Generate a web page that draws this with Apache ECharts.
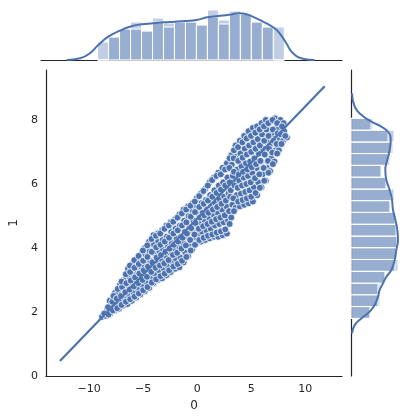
<!DOCTYPE html>
<html>
<head>
<meta charset="utf-8">
<script src="https://cdn.jsdelivr.net/npm/echarts@6/dist/echarts.min.js"></script>
<style>
  html, body { margin: 0; padding: 0; background: #fff; }
  #main { width: 410px; height: 420px; }
</style>
</head>
<body>
<div id="main"></div>
<script>
// tick labels
const xTicks = [-10, -5, 0, 5, 10];
const yTicks = [0, 2, 4, 6, 8];

// joint scatter (column "0" vs column "1")
const points = [
  [-8.8,1.85],
  [-8.45,1.88],[-8.35,2.05],
  [-8.05,1.95],[-7.95,2.2],[-8.1,2.35],
  [-7.65,2.05],[-7.55,2.3],[-7.6,2.6],
  [-7.25,2.1],[-7.1,2.35],[-7.3,2.6],[-7.15,2.85],
  [-6.85,2.2],[-6.75,2.45],[-6.9,2.75],[-6.7,3.0],
  [-6.45,2.25],[-6.35,2.55],[-6.5,2.85],[-6.3,3.1],[-6.4,3.35],
  [-6.05,2.35],[-5.9,2.6],[-6.1,2.9],[-5.95,3.2],[-6.0,3.5],
  [-5.65,2.45],[-5.55,2.75],[-5.7,3.0],[-5.5,3.3],[-5.6,3.65],
  [-5.25,2.55],[-5.1,2.85],[-5.3,3.1],[-5.15,3.4],[-5.2,3.8],
  [-4.85,2.65],[-4.75,2.95],[-4.9,3.25],[-4.7,3.55],[-4.8,3.8],[-4.85,4.0],
  [-4.45,2.75],[-4.3,3.05],[-4.5,3.35],[-4.35,3.6],[-4.4,3.9],[-4.45,4.2],
  [-4.05,2.9],[-3.95,3.2],[-4.1,3.5],[-3.9,3.8],[-4.0,4.1],[-4.05,4.4],
  [-3.65,3.0],[-3.55,3.3],[-3.7,3.6],[-3.5,3.9],[-3.6,4.2],[-3.65,4.45],
  [-3.25,3.05],[-3.1,3.35],[-3.3,3.65],[-3.15,3.95],[-3.2,4.25],[-3.25,4.55],
  [-2.85,3.15],[-2.75,3.45],[-2.9,3.75],[-2.7,4.05],[-2.8,4.35],[-2.85,4.7],
  [-2.45,3.25],[-2.3,3.55],[-2.5,3.85],[-2.35,4.15],[-2.4,4.5],[-2.45,4.8],
  [-2.05,3.35],[-1.95,3.65],[-2.1,3.95],[-1.9,4.3],[-2.0,4.6],[-2.05,4.9],
  [-1.65,3.4],[-1.55,3.7],[-1.7,4.05],[-1.5,4.35],[-1.6,4.7],[-1.65,5.05],
  [-1.25,3.55],[-1.1,3.85],[-1.3,4.15],[-1.15,4.5],[-1.2,4.85],[-1.25,5.2],
  [-0.85,3.75],[-0.75,4.05],[-0.9,4.35],[-0.7,4.65],[-0.8,5.0],[-0.85,5.3],
  [-0.45,3.95],[-0.3,4.25],[-0.5,4.55],[-0.35,4.85],[-0.4,5.15],[-0.45,5.4],
  [-0.05,4.15],[0.05,4.45],[-0.1,4.75],[0.1,5.05],[0.0,5.3],[-0.05,5.55],
  [0.35,4.2],[0.45,4.5],[0.3,4.8],[0.5,5.1],[0.4,5.4],[0.35,5.7],
  [0.75,4.25],[0.85,4.55],[0.7,4.85],[0.9,5.2],[0.8,5.5],[0.75,5.85],
  [1.15,4.3],[1.25,4.6],[1.1,4.95],[1.3,5.3],[1.2,5.65],[1.15,6.05],
  [1.55,4.35],[1.65,4.7],[1.5,5.05],[1.7,5.4],[1.6,5.8],[1.55,6.2],
  [1.95,4.35],[2.05,4.75],[1.9,5.1],[2.1,5.5],[2.0,5.95],[1.95,6.35],
  [2.35,4.4],[2.45,4.8],[2.3,5.2],[2.5,5.6],[2.4,6.05],[2.35,6.5],
  [2.75,4.45],[2.85,4.85],[2.7,5.3],[2.9,5.7],[2.8,6.2],[2.75,6.65],
  [3.15,4.95],[3.25,5.35],[3.1,5.8],[3.3,6.25],[3.2,6.6],[3.15,6.9],
  [3.55,5.25],[3.65,5.65],[3.5,6.05],[3.7,6.45],[3.6,6.85],[3.55,7.2],
  [3.95,5.3],[4.05,5.7],[3.9,6.1],[4.1,6.55],[4.0,6.95],[3.95,7.35],
  [4.35,5.35],[4.45,5.75],[4.3,6.2],[4.5,6.65],[4.4,7.1],[4.35,7.5],
  [4.75,5.4],[4.85,5.8],[4.7,6.25],[4.9,6.7],[4.8,7.2],[4.75,7.65],
  [5.15,5.45],[5.25,5.9],[5.1,6.35],[5.3,6.8],[5.2,7.3],[5.15,7.75],
  [5.55,5.65],[5.65,6.05],[5.5,6.5],[5.7,6.95],[5.6,7.4],[5.55,7.8],
  [5.95,5.9],[6.05,6.3],[5.9,6.7],[6.1,7.1],[6.0,7.55],[5.95,7.9],
  [6.35,6.1],[6.45,6.5],[6.3,6.9],[6.5,7.3],[6.4,7.7],[6.35,8.0],
  [6.75,6.4],[6.85,6.8],[6.7,7.2],[6.9,7.55],[6.8,7.95],
  [7.15,6.7],[7.25,7.05],[7.1,7.4],[7.3,7.75],[7.2,8.05],
  [7.55,7.05],[7.65,7.4],[7.5,7.7],[7.7,8.0],
  [7.95,7.35],[8.05,7.65],[8.0,7.9],
  [8.3,7.45]
];
const points2 = [
  [-8.6,1.95],
  [-8.2,1.92],[-8.25,2.15],
  [-7.8,2.05],[-7.85,2.32],[-7.75,2.5],
  [-7.4,2.12],[-7.45,2.42],[-7.35,2.72],
  [-7.0,2.22],[-7.05,2.5],[-6.95,2.78],[-7.0,2.95],
  [-6.6,2.32],[-6.65,2.62],[-6.55,2.9],[-6.6,3.18],
  [-6.2,2.4],[-6.25,2.7],[-6.15,2.98],[-6.2,3.25],[-6.22,3.45],
  [-5.8,2.48],[-5.85,2.8],[-5.75,3.08],[-5.8,3.38],[-5.82,3.62],
  [-5.4,2.58],[-5.45,2.9],[-5.35,3.2],[-5.4,3.5],[-5.42,3.75],
  [-5.0,2.68],[-5.05,3.0],[-4.95,3.3],[-5.0,3.6],[-5.02,3.92],
  [-4.6,2.78],[-4.65,3.1],[-4.55,3.42],[-4.6,3.72],[-4.62,4.08],
  [-4.2,2.92],[-4.25,3.25],[-4.15,3.55],[-4.2,3.88],[-4.22,4.28],
  [-3.8,3.02],[-3.85,3.38],[-3.75,3.7],[-3.8,4.02],[-3.82,4.38],
  [-3.4,3.12],[-3.45,3.45],[-3.35,3.78],[-3.4,4.1],[-3.42,4.45],
  [-3.0,3.2],[-3.05,3.52],[-2.95,3.88],[-3.0,4.2],[-3.02,4.6],
  [-2.6,3.3],[-2.65,3.62],[-2.55,3.98],[-2.6,4.32],[-2.62,4.7],
  [-2.2,3.42],[-2.25,3.78],[-2.15,4.1],[-2.2,4.45],[-2.22,4.82],
  [-1.8,3.5],[-1.85,3.85],[-1.75,4.2],[-1.8,4.55],[-1.82,4.95],
  [-1.4,3.6],[-1.45,3.98],[-1.35,4.32],[-1.4,4.7],[-1.42,5.08],
  [-1.0,3.72],[-1.05,4.08],[-0.95,4.45],[-1.0,4.8],[-1.02,5.2],
  [-0.6,3.92],[-0.65,4.25],[-0.55,4.62],[-0.6,4.98],[-0.62,5.32],
  [-0.2,4.1],[-0.25,4.42],[-0.15,4.78],[-0.2,5.12],[-0.22,5.45],
  [0.2,4.25],[0.15,4.6],[0.25,4.95],[0.2,5.28],[0.18,5.62],
  [0.6,4.32],[0.55,4.68],[0.65,5.02],[0.6,5.38],[0.58,5.78],
  [1.0,4.38],[0.95,4.75],[1.05,5.1],[1.0,5.48],[0.98,5.95],
  [1.4,4.42],[1.35,4.82],[1.45,5.2],[1.4,5.6],[1.38,6.12],
  [1.8,4.48],[1.75,4.9],[1.85,5.28],[1.8,5.72],[1.78,6.25],
  [2.2,4.52],[2.15,4.95],[2.25,5.38],[2.2,5.82],[2.18,6.3],
  [2.6,4.58],[2.55,5.02],[2.65,5.48],[2.6,5.95],[2.58,6.45],
  [3.0,4.75],[2.95,5.15],[3.05,5.6],[3.0,6.05],[2.98,6.5],[3.0,6.8],
  [3.4,5.15],[3.35,5.55],[3.45,5.95],[3.4,6.38],[3.38,6.8],[3.4,7.05],
  [3.8,5.45],[3.75,5.88],[3.85,6.3],[3.8,6.72],[3.78,7.15],
  [4.2,5.5],[4.15,5.95],[4.25,6.38],[4.2,6.82],[4.18,7.3],
  [4.6,5.55],[4.55,6.0],[4.65,6.45],[4.6,6.92],[4.58,7.42],
  [5.0,5.6],[4.95,6.05],[5.05,6.52],[5.0,7.0],[4.98,7.5],
  [5.4,5.72],[5.35,6.18],[5.45,6.62],[5.4,7.1],[5.38,7.6],
  [5.8,5.88],[5.75,6.3],[5.85,6.72],[5.8,7.2],[5.78,7.7],
  [6.2,6.1],[6.15,6.5],[6.25,6.92],[6.2,7.35],[6.18,7.8],
  [6.6,6.35],[6.55,6.72],[6.65,7.1],[6.6,7.5],[6.58,7.9],
  [7.0,6.62],[6.95,6.98],[7.05,7.35],[7.0,7.7],[6.98,8.0],
  [7.4,6.95],[7.35,7.25],[7.45,7.58],[7.4,7.9],
  [7.8,7.25],[7.75,7.55],[7.85,7.8],
  [8.15,7.5]
];

// fitted regression line ends
const regLine = [[-12.7, 0.47], [11.8, 9.05]];

// top marginal: histogram of "0" (two overlapping layers) + kde
const xBinEdges = [-8.85,-7.85,-6.85,-5.85,-4.85,-3.85,-2.85,-1.85,-0.85,0.15,1.15,2.15,3.15,4.15,5.15,6.15,7.15,8.15];
const xHistA = [18,23,31,38,29,42,37,38,38,35,50,40,49,46,38,33,33];
const xHistB = [0,23,31,31,29,38,33,38,38,35,43,36,46,46,38,33,0];
const xKde = [[-11.66,0],[-10.45,1.7],[-9.55,6.7],[-8.79,15],[-7.88,23.3],[-6.82,29.3],[-5.91,33.3],
  [-4.85,35.7],[-3.79,36.7],[-2.88,37.7],[-1.82,38.3],[-0.85,39],[0.15,40],[1.15,42.7],[2.12,44],
  [3.12,45.3],[4.03,46.7],[4.7,45.7],[5.6,41.7],[6.52,36.7],[7.27,31.7],[7.73,26.7],[8.33,16.7],
  [8.94,6.7],[9.85,1.3],[10.9,0]];

// right marginal: histogram of "1" + kde
const yBinEdges = [1.8,2.17,2.54,2.9,3.27,3.64,4.01,4.37,4.74,5.11,5.48,5.84,6.21,6.58,6.95,7.31,7.68,8.05];
const yHistA = [19,29,29,34,47,46,47,47,45,39,43,36,31,39,42,43,22];
const yHistB = [19,27,27,34,44,45,46,45,44,39,40,35,30,37,40,37,20];
const yKde = [[1,1.33],[3.7,1.59],[10.3,1.8],[18.7,2.01],[23.7,2.22],[27,2.48],[28.7,2.69],[32,2.9],
  [35.3,3.1],[40.3,3.31],[43.7,3.63],[45.3,3.94],[47,4.25],[46.3,4.56],[44.3,4.88],[42,5.19],[41,5.5],
  [38.7,5.81],[35.3,6.13],[34.3,6.44],[36.3,6.75],[38.7,7.06],[39.7,7.38],[37,7.63],[30.3,7.79],
  [20.3,7.95],[10.3,8.16],[3.7,8.42],[1,8.83]];

const blue = '#4c72b0';
const barFill = 'rgba(76,114,176,0.35)';
const ink = '#262626';

function toBins(edges, heights) {
  return heights.map((h, i) => [edges[i], edges[i + 1], h]);
}

function vBar(params, api) {
  const p0 = api.coord([api.value(0), 0]);
  const p1 = api.coord([api.value(1), api.value(2)]);
  return {
    type: 'rect',
    shape: { x: p0[0], y: p1[1], width: p1[0] - p0[0], height: p0[1] - p1[1] },
    style: { fill: barFill, stroke: '#fff', lineWidth: 1 }
  };
}

function hBar(params, api) {
  const p0 = api.coord([0, api.value(0)]);
  const p1 = api.coord([api.value(2), api.value(1)]);
  return {
    type: 'rect',
    shape: { x: p0[0], y: p1[1], width: p1[0] - p0[0], height: p0[1] - p1[1] },
    style: { fill: barFill, stroke: '#fff', lineWidth: 1 }
  };
}

const minus = v => String(v).replace('-', '\u2212');
const font = 'DejaVu Sans';

const chart = echarts.init(document.getElementById('main'));
const option = {
  animation: false,
  grid: [
    { left: 41, top: 70, width: 301, height: 306 },
    { left: 41, top: 0, width: 301, height: 60 },
    { left: 351, top: 70, width: 59, height: 306 }
  ],
  xAxis: [
    {
      gridIndex: 0, type: 'value', min: -14, max: 13.4,
      name: '0', nameLocation: 'middle', nameGap: 22,
      nameTextStyle: { color: ink, fontSize: 12, fontFamily: font },
      axisLine: { onZero: false, lineStyle: { color: ink, width: 1.2 } },
      axisTick: { show: false },
      splitLine: { show: false },
      axisLabel: { customValues: xTicks, formatter: minus, color: ink, fontSize: 11, fontFamily: font, margin: 8 }
    },
    {
      gridIndex: 1, type: 'value', min: -14, max: 13.4,
      axisLine: { onZero: false, lineStyle: { color: ink, width: 1.2 } },
      axisTick: { show: false }, axisLabel: { show: false }, splitLine: { show: false }
    },
    { gridIndex: 2, type: 'value', min: 0, max: 59, show: false }
  ],
  yAxis: [
    {
      gridIndex: 0, type: 'value', min: 0, max: 9.56,
      name: '1', nameLocation: 'middle', nameGap: 22,
      nameTextStyle: { color: ink, fontSize: 12, fontFamily: font },
      axisLine: { show: true, onZero: false, lineStyle: { color: ink, width: 1.2 } },
      axisTick: { show: false },
      splitLine: { show: false },
      axisLabel: { customValues: yTicks, color: ink, fontSize: 11, fontFamily: font, margin: 8 }
    },
    { gridIndex: 1, type: 'value', min: 0, max: 60, show: false },
    {
      gridIndex: 2, type: 'value', min: 0, max: 9.56,
      axisLine: { show: true, onZero: false, lineStyle: { color: ink, width: 1.2 } },
      axisTick: { show: false }, axisLabel: { show: false }, splitLine: { show: false }
    }
  ],
  series: [
    {
      type: 'scatter', xAxisIndex: 0, yAxisIndex: 0,
      data: points.concat(points2), symbolSize: 7,
      itemStyle: { color: blue, borderColor: '#fff', borderWidth: 0.8, opacity: 1 }
    },
    {
      type: 'line', xAxisIndex: 0, yAxisIndex: 0,
      data: regLine, showSymbol: false,
      lineStyle: { color: blue, width: 2.2 }
    },
    { type: 'custom', xAxisIndex: 1, yAxisIndex: 1, renderItem: vBar, data: toBins(xBinEdges, xHistA) },
    { type: 'custom', xAxisIndex: 1, yAxisIndex: 1, renderItem: vBar, data: toBins(xBinEdges, xHistB) },
    {
      type: 'line', xAxisIndex: 1, yAxisIndex: 1, data: xKde, smooth: true, showSymbol: false,
      lineStyle: { color: blue, width: 2 }
    },
    { type: 'custom', xAxisIndex: 2, yAxisIndex: 2, renderItem: hBar, data: toBins(yBinEdges, yHistA) },
    { type: 'custom', xAxisIndex: 2, yAxisIndex: 2, renderItem: hBar, data: toBins(yBinEdges, yHistB) },
    {
      type: 'line', xAxisIndex: 2, yAxisIndex: 2, data: yKde, smooth: true, showSymbol: false,
      lineStyle: { color: blue, width: 2 }
    }
  ]
};
chart.setOption(option);
</script>
</body>
</html>
